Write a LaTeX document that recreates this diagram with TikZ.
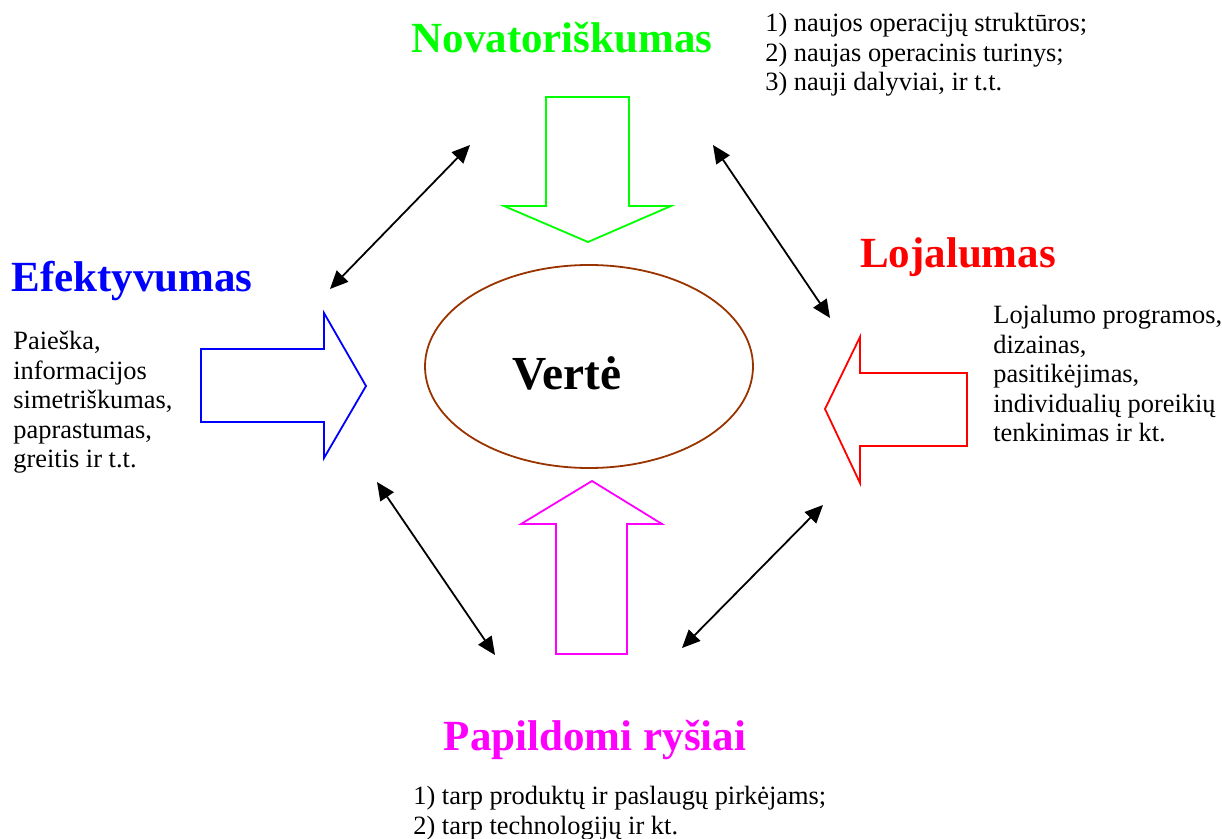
\documentclass[tikz,border=0pt]{standalone}
\usepackage{fontspec}
\setmainfont{Liberation Serif}
\usetikzlibrary{arrows.meta,shapes.geometric}

\definecolor{novgreen}{RGB}{0,255,0}
\definecolor{efblue}{RGB}{0,0,255}
\definecolor{lojred}{RGB}{255,0,0}
\definecolor{papmagenta}{RGB}{255,0,255}
\definecolor{vertbrown}{RGB}{153,51,0}

\tikzset{
	blockarrow/.style={line width=0.9pt, line join=miter},
	linkarrow/.style={{Triangle[length=9pt,width=8pt]}-{Triangle[length=9pt,width=8pt]}, line width=0.9pt},
	heading/.style={font=\fontsize{21.5}{24}\selectfont\bfseries, inner sep=0pt, anchor=base},
	listtext/.style={font=\fontsize{13.2}{14.75}\selectfont, align=left, inner sep=0pt, anchor=north west},
}

\begin{document}
\begin{tikzpicture}[x=0.5pt, y=-0.5pt]
	\useasboundingbox (0,0) rectangle (1222,839);
	
	% draw the ellipse in the middle
	\node[draw=vertbrown, line width=0.9pt, ellipse, minimum width=164pt, minimum height=101.5pt, inner sep=0pt] (verte) at (589,366.5) {};
	\node[font=\fontsize{23.7}{26}\selectfont\bfseries, anchor=base, inner sep=0pt] (verteLabel) at (567,390) {Vertė};
	
	% draw block arrows
	\draw[blockarrow, novgreen] (546,97) -- (629,97) -- (629,206) -- (671,206) -- (588,242) -- (504,206) -- (546,206) -- cycle;
	\draw[blockarrow, efblue] (201,349) -- (324,349) -- (324,313) -- (366,386) -- (324,458) -- (324,422) -- (201,422) -- cycle;
	\draw[blockarrow, lojred] (967,373) -- (860,373) -- (860,337) -- (825,409) -- (860,483) -- (860,446) -- (967,446) -- cycle;
	\draw[blockarrow, papmagenta] (556,654) -- (556,524) -- (521,524) -- (592,481) -- (662,524) -- (627,524) -- (627,654) -- cycle;
	
	% draw double arrows
	\coordinate (nw1) at (330,289);
	\coordinate (nw2) at (470,145);
	\coordinate (ne1) at (713,145);
	\coordinate (ne2) at (830,318);
	\coordinate (sw1) at (377,482);
	\coordinate (sw2) at (495,655);
	\coordinate (se1) at (823,505);
	\coordinate (se2) at (682,648);
	\foreach \a/\b in {nw1/nw2, ne1/ne2, sw1/sw2, se1/se2}
	\draw[linkarrow] (\a) -- (\b);
	
	% draw headings
	\node[heading, novgreen] (novLabel) at (562,53) {Novatoriškumas};
	\node[heading, lojred] (lojLabel) at (958,268) {Lojalumas};
	\node[heading, efblue] (efLabel) at (132,292) {Efektyvumas};
	\node[heading, papmagenta] (papLabel) at (595,750) {Papildomi ryšiai};
	
	% draw lists
	\node[listtext] (novList) at (765,13) {1) naujos operacijų struktūros;\\2) naujas operacinis turinys;\\3) nauji dalyviai, ir t.t.};
	\node[listtext] (efList) at (13,331) {Paieška,\\informacijos\\simetriškumas,\\paprastumas,\\greitis ir t.t.};
	\node[listtext] (lojList) at (993,305) {Lojalumo programos,\\dizainas,\\pasitikėjimas,\\individualių poreikių\\tenkinimas ir kt.};
	\node[listtext] (papList) at (413,786) {1) tarp produktų ir paslaugų pirkėjams;\\2) tarp technologijų ir kt.};
\end{tikzpicture}
\end{document}
